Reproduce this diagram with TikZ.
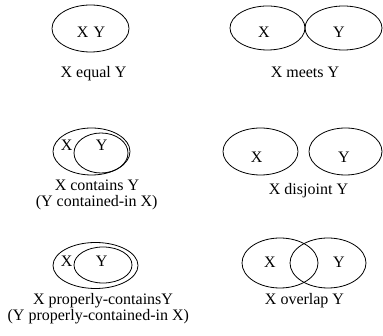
\documentclass[tikz,border=0pt]{standalone}
\usepackage{fontspec}
\setmainfont{Liberation Serif}
\usetikzlibrary{shapes.geometric}
\begin{document}
\begin{tikzpicture}[x=1pt,y=-1pt,
  set/.style={draw,ellipse,line width=0.8pt,inner sep=0pt},
  lab/.style={anchor=base,inner sep=0pt,font=\fontsize{16}{18}\selectfont}]
\useasboundingbox (0,0) rectangle (383,336);
% panel 1: equal
\node[set,minimum width=77pt,minimum height=47pt] (e1) at (90.5,28.5) {};
\node[lab] (e1t) at (91,38) {X\,\,Y};
\node[lab] (e1l) at (93.5,77.5) {X equal Y};
% panel 2: meets
\node[set,minimum width=75pt,minimum height=44pt] (m1) at (267.5,28) {};
\node[set,minimum width=77pt,minimum height=44pt] (m2) at (343.5,28) {};
\node[lab] (m1t) at (264,38) {X};
\node[lab] (m2t) at (339,38) {Y};
\node[lab] (ml) at (305,78) {X meets Y};
% panel 3: contains
\node[set,minimum width=77pt,minimum height=47pt] (c1) at (91.5,151.5) {};
\node[set,minimum width=54pt,minimum height=40pt] (c2) at (101,153) {};
\node[lab] (c1t) at (66.7,150.5) {X};
\node[lab] (c2t) at (101.7,150.5) {Y};
\node[lab] (cl1) at (97,191) {X contains Y};
\node[lab] (cl2) at (96.7,207) {(Y contained-in X)};
% panel 4: disjoint
\node[set,minimum width=75pt,minimum height=47pt] (d1) at (260.5,151.5) {};
\node[set,minimum width=73pt,minimum height=47pt] (d2) at (345.5,151.5) {};
\node[lab] (d1t) at (256.7,162.7) {X};
\node[lab] (d2t) at (344,162.7) {Y};
\node[lab] (dl) at (308.5,195) {X disjoint Y};
% panel 5: properly contains
\node[set,minimum width=85pt,minimum height=46pt] (p1) at (95.5,265.5) {};
\node[set,minimum width=58pt,minimum height=36pt] (p2) at (103,265) {};
\node[lab] (p1t) at (66.7,266.7) {X};
\node[lab] (p2t) at (101.7,266.7) {Y};
\node[lab] (pl1) at (103,305) {X properly-containsY};
\node[lab] (pl2) at (98.3,321) {(Y properly-contained-in X)};
% panel 6: overlap
\node[set,minimum width=76pt,minimum height=50pt] (o1) at (280,263) {};
\node[set,minimum width=76pt,minimum height=50pt] (o2) at (328,263) {};
\node[lab] (o1t) at (270,267.3) {X};
\node[lab] (o2t) at (339,267.3) {Y};
\node[lab] (ol) at (304.5,305) {X overlap Y};
\end{tikzpicture}
\end{document}
